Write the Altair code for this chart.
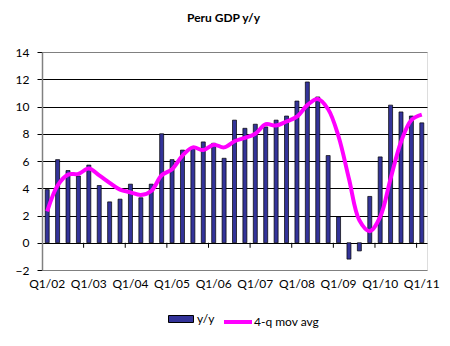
import altair as alt
import pandas as pd

quarters = [f"Q{q}/{y:02d}" for y in range(2, 12) for q in range(1, 5)][:37]

yy = [3.9, 6.1, 5.3, 4.9, 5.7, 4.2, 3.0, 3.2, 4.3, 3.3, 4.3, 8.0,
      6.1, 6.8, 7.0, 7.4, 7.3, 6.2, 9.0, 8.4, 8.7, 8.5, 9.0, 9.3,
      10.4, 11.8, 10.7, 6.4, 1.9, -1.2, -0.6, 3.4, 6.3, 10.1, 9.6, 9.3, 8.8]

mov_avg = [2.3, 4.2, 5.0, 5.05, 5.45, 4.95, 4.4, 3.9, 3.7, 3.5, 3.8, 4.95,
           5.4, 6.4, 7.0, 6.8, 7.2, 7.0, 7.45, 7.7, 8.0, 8.7, 8.6, 8.9,
           9.25, 10.1, 10.55, 9.8, 7.8, 4.7, 1.65, 0.85, 1.9, 4.7, 7.4, 9.0, 9.4]

year_ticks = [q for q in quarters if q.startswith("Q1/")]
tick_marks = year_ticks[1:]
y_ticks = list(range(-2, 15, 2))

df = pd.DataFrame({"q": quarters, "yy": yy, "avg": mov_avg,
                   "s1": "y/y", "s2": "4-q mov avg"})
tdf = pd.DataFrame({"q": tick_marks})

FONT = "Lato"
xscale = alt.Scale(domain=quarters, paddingInner=0, paddingOuter=0)
yscale = alt.Scale(domain=[-2, 14], nice=False)

xaxis = alt.Axis(values=year_ticks, labelAngle=0, domain=False, ticks=False,
                 labelPadding=8, labelFont=FONT, labelFontSize=12,
                 labelColor="black", grid=False, labelOverlap=False)
yaxis = alt.Axis(values=y_ticks, domainColor="#808080", domainWidth=1.5,
                 tickColor="black", tickSize=5, labelPadding=8, labelOverlap=False,
                 labelFont=FONT, labelFontSize=12, labelColor="black",
                 gridColor={"condition": {"test": "datum.value == 14 || datum.value == -2",
                                          "value": "#808080"},
                            "value": "black"},
                 gridWidth=1, gridOpacity=1)

bars = alt.Chart(df).mark_bar(width=4, stroke="black", strokeWidth=0.7).encode(
    x=alt.X("q:N", scale=xscale, sort=quarters, title=None, axis=xaxis),
    y=alt.Y("yy:Q", scale=yscale, title=None, axis=yaxis),
    fill=alt.Fill("s1:N", scale=alt.Scale(domain=["y/y"], range=["#333399"]),
                  legend=alt.Legend(title=None, orient="none", legendX=126, legendY=254,
                                    symbolType="M-1,-0.28L1,-0.28L1,0.28L-1,0.28Z",
                                    symbolSize=625, symbolStrokeColor="black",
                                    symbolStrokeWidth=1, labelFont=FONT, labelFontSize=12,
                                    labelColor="black", labelOffset=3)),
)

ticks = alt.Chart(tdf).mark_rule(color="black", strokeWidth=1).encode(
    x=alt.X("q:N", scale=xscale, sort=quarters, bandPosition=0, title=None, axis=xaxis),
    y=alt.Y(datum=0, scale=yscale, title=None, axis=yaxis),
    y2=alt.datum(-0.37),
)

line = alt.Chart(df).mark_line(strokeWidth=4, interpolate="catmull-rom").encode(
    x=alt.X("q:N", scale=xscale, sort=quarters, title=None, axis=xaxis),
    y=alt.Y("avg:Q", scale=yscale, title=None, axis=yaxis),
    stroke=alt.Stroke("s2:N", scale=alt.Scale(domain=["4-q mov avg"], range=["#FF00FF"]),
                      legend=alt.Legend(title=None, orient="none", legendX=180, legendY=254,
                                        symbolType="stroke", symbolSize=784,
                                        symbolStrokeWidth=4, labelFont=FONT,
                                        labelFontSize=12, labelColor="black", labelOffset=0)),
)

chart = alt.layer(bars, ticks, line).resolve_scale(fill="independent", stroke="independent").properties(
    width=385, height=218,
    title=alt.TitleParams("Peru GDP y/y", font=FONT, fontSize=12, fontWeight="bold",
                          color="black", anchor="middle", dx=-11, offset=21),
    autosize=alt.AutoSizeParams(type="none"),
    padding={"left": 42, "top": 52, "right": 23, "bottom": 76},
).configure_view(stroke="#808080", strokeWidth=1).configure(background="white")

chart.save("out.html", embed_options={"renderer": "svg", "actions": False})
